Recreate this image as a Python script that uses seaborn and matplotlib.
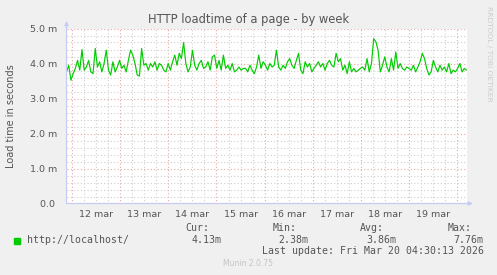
import numpy as np
import pandas as pd
import matplotlib
matplotlib.use("Agg")
import matplotlib.pyplot as plt
import matplotlib.dates as mdates
import matplotlib.ticker as mticker
import seaborn as sns

# ---------------- data ----------------
title = "HTTP loadtime of a page - by week"
y_label = "Load time in seconds"
series_name = "http://localhost/"
start_time = "2026-03-11 21:18"
end_time = "2026-03-20 04:30"

loadtime_ms = [
    3.76, 3.95, 3.52, 3.71, 3.86, 4.09, 3.81, 4.40, 3.81, 3.90,
    4.09, 3.76, 3.71, 4.43, 3.90, 4.05, 3.76, 4.00, 4.38, 3.81,
    3.67, 4.05, 3.76, 3.90, 4.09, 3.86, 3.95, 3.76, 4.09, 4.38,
    4.24, 4.00, 3.67, 3.64, 4.43, 3.95, 4.00, 3.81, 4.00, 3.90,
    4.05, 3.81, 4.00, 3.95, 3.81, 3.76, 4.00, 3.81, 4.05, 4.24,
    3.95, 4.29, 4.14, 4.60, 4.00, 3.76, 3.90, 4.38, 3.95, 3.81,
    4.00, 4.09, 3.86, 3.90, 4.05, 3.81, 4.19, 4.24, 3.86, 4.09,
    3.81, 4.24, 3.86, 3.95, 3.81, 4.00, 3.76, 3.81, 3.90, 3.81,
    3.86,
    3.86, 3.76, 3.95, 3.81, 3.71, 3.90, 4.24, 3.86, 4.05, 3.95,
    3.81, 4.00, 3.90, 3.95, 4.38, 3.90, 3.81, 3.95, 3.86, 4.05,
    4.14, 3.95, 3.86, 4.09, 4.29, 3.81, 3.71, 4.05, 3.90, 4.00,
    3.76, 3.86, 3.95, 4.05, 3.90, 4.00, 3.81, 4.00, 4.09, 3.95,
    3.90, 4.29, 4.05, 4.14, 3.81, 3.95, 3.71, 4.05, 3.76, 3.86,
    3.76, 3.81, 3.86, 3.90, 3.81, 4.14, 3.76, 4.00, 4.71, 4.62,
    4.38, 3.76, 3.95, 4.19, 3.90, 3.76, 4.14, 3.81, 4.33, 3.86,
    4.00, 3.86, 3.81, 3.90, 3.86, 3.81, 3.95, 3.76, 3.90, 4.05,
    4.29, 4.14, 3.86, 3.67, 3.76, 4.09, 3.90, 3.76, 3.95, 3.81,
    3.90, 3.76, 4.00, 3.71, 3.81, 3.76, 3.86, 4.00, 3.76, 3.86,
    3.81,
]

y_ticks = [0, 1, 2, 3, 4, 5]
y_tick_labels = ["0.0 ", "1.0 m", "2.0 m", "3.0 m", "4.0 m", "5.0 m"]
stat_names = ["Cur:", "Min:", "Avg:", "Max:"]
stat_values = ["4.13m", "2.38m", "3.86m", "7.76m"]
last_update = "Last update: Fri Mar 20 04:30:13 2026"
munin_version = "Munin 2.0.75"
rrd_credit = "RRDTOOL / TOBI OETIKER"

# ---------------- style ----------------
sns.set_style("white")
plt.rcParams["font.family"] = ["DejaVu Sans"]

W, H = 497, 275
BG = "#F0F0F0"
TXT = "#555555"
LINE = "#00CC00"
AXCOL = "#C6CCF4"
MGRID = "#E8A8A8"
GRID = "#CFCFCF"

times = pd.date_range(start_time, end_time, periods=len(loadtime_ms))
df = pd.DataFrame({"time": times, "loadtime": loadtime_ms})

fig = plt.figure(figsize=(W / 100, H / 100), dpi=100, facecolor=BG)


def fx(x):
    return x / W


def fy(y):
    return 1 - y / H


ax_l, ax_r, ax_t, ax_b = 66.5, 466.5, 28.5, 203.5
ax = fig.add_axes([fx(ax_l), fy(ax_b), (ax_r - ax_l) / W, (ax_b - ax_t) / H])
ax.set_facecolor("white")

sns.lineplot(data=df, x="time", y="loadtime", ax=ax, color=LINE,
             linewidth=0.85, legend=False, zorder=3)

ax.set_xlim(pd.Timestamp(start_time), pd.Timestamp(end_time))
ax.set_ylim(0, 5)
ax.set_xlabel("")
ax.set_ylabel("")

for s in ax.spines.values():
    s.set_visible(False)

# y axis
ax.yaxis.set_major_locator(mticker.FixedLocator(y_ticks))
ax.yaxis.set_major_formatter(mticker.FixedFormatter(y_tick_labels))
ax.yaxis.set_minor_locator(mticker.MultipleLocator(0.2))
ax.tick_params(axis="y", which="major", length=2, direction="out", color=MGRID,
               labelsize=6.8, labelcolor=TXT, pad=4.3)
ax.tick_params(axis="y", which="minor", length=0)

# x axis: grid at midnights (major) and 6-hourly (minor)
ax.xaxis.set_major_locator(mdates.DayLocator())
ax.xaxis.set_major_formatter(mticker.NullFormatter())
ax.xaxis.set_minor_locator(mdates.HourLocator(byhour=[6, 12, 18]))
ax.tick_params(axis="x", which="major", length=2, direction="out", color=MGRID)
ax.tick_params(axis="x", which="minor", length=2, direction="out", color=GRID)

ax.grid(True, which="minor", color=GRID, linestyle=(0, (1, 2)), linewidth=0.8)
ax.grid(True, which="major", color=MGRID, linestyle=(0, (1, 2)), linewidth=0.8)
ax.set_axisbelow(True)

# day labels centred at noon on a secondary axis
sec = ax.secondary_xaxis("bottom")
sec.xaxis.set_major_locator(mdates.HourLocator(byhour=12))


def day_fmt(x, pos):
    d = mdates.num2date(x)
    return f"{d.day} {d.strftime('%b').lower()}"


sec.xaxis.set_major_formatter(mticker.FuncFormatter(day_fmt))
sec.tick_params(axis="x", length=0, labelsize=6.8, labelcolor=TXT, pad=4.5)
for s in sec.spines.values():
    s.set_visible(False)

# axis lines with arrows
ax.annotate("", xy=(0, (ax_b - 21) / (ax_b - ax_t)), xytext=(0, 0),
            xycoords="axes fraction", textcoords="axes fraction",
            arrowprops=dict(arrowstyle="-|>", color=AXCOL, lw=0.9,
                            mutation_scale=6, shrinkA=0, shrinkB=0),
            annotation_clip=False, zorder=5)
ax.annotate("", xy=((473 - ax_l) / (ax_r - ax_l), 0), xytext=(0, 0),
            xycoords="axes fraction", textcoords="axes fraction",
            arrowprops=dict(arrowstyle="-|>", color=AXCOL, lw=0.9,
                            mutation_scale=6, shrinkA=0, shrinkB=0),
            annotation_clip=False, zorder=5)

# titles
fig.text(fx(248.5), fy(23), title, ha="center", va="baseline",
         fontsize=8.3, color=TXT)
fig.text(fx(11), fy(116), y_label, ha="center", va="center", rotation=90,
         fontsize=7.0, color=TXT)
fig.text(fx(488.5), fy(53.5), rrd_credit, ha="center", va="center",
         rotation=270, fontsize=5.4, color="#CCCCCC")

# legend
mono = "DejaVu Sans Mono"
fig.patches.append(plt.Rectangle((fx(14), fy(243.5)), 6 / W, 6 / H,
                                 transform=fig.transFigure, color=LINE))
fig.text(fx(26.5), fy(242.7), series_name, family=mono, fontsize=7.1,
         color=TXT, va="baseline", ha="left")
name_x = [185.7, 272.7, 360.0, 447.3]
val_x = [191.7, 278.3, 366.0, 453.3]
for nx, vx, n, v in zip(name_x, val_x, stat_names, stat_values):
    fig.text(fx(nx), fy(231.3), n, family=mono, fontsize=7.1, color=TXT,
             va="baseline", ha="left")
    fig.text(fx(vx), fy(242.7), v, family=mono, fontsize=7.1, color=TXT,
             va="baseline", ha="left")
fig.text(fx(261.7), fy(254.5), last_update, family=mono, fontsize=7.1,
         color=TXT, va="baseline", ha="left")
fig.text(fx(247.7), fy(264), munin_version, ha="center", va="center",
         fontsize=5.5, color="#C4C4C4")

fig.savefig("out.png", dpi=100, facecolor=BG)
